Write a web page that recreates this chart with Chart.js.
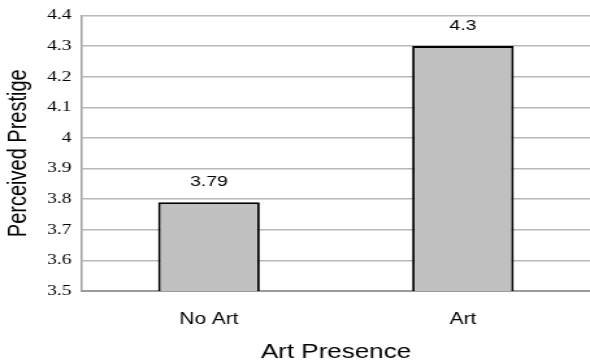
<!DOCTYPE html>
<html>
<head>
<meta charset="utf-8">
<script src="https://cdn.jsdelivr.net/npm/chart.js@4/dist/chart.umd.min.js"></script>
<style>
  html, body { margin: 0; padding: 0; background: #ffffff; }
  #c { display: block; }
</style>
</head>
<body>
<canvas id="c" width="454" height="364" style="width:590px;height:364px"></canvas>
<script>
const categories = ["No Art", "Art"];
const values = [3.79, 4.3];
const yMin = 3.5;
const yMax = 4.4;
const yStep = 0.1;
const xTitle = "Art Presence";
const yTitle = "Perceived Prestige";

const valueLabels = {
  id: 'valueLabels',
  afterDatasetsDraw(chart) {
    const ctx = chart.ctx;
    const meta = chart.getDatasetMeta(0);
    ctx.save();
    ctx.font = '15px "Liberation Sans", Arial, sans-serif';
    ctx.fillStyle = '#000000';
    ctx.textAlign = 'center';
    ctx.textBaseline = 'alphabetic';
    meta.data.forEach((bar, i) => {
      ctx.fillText(String(values[i]), bar.x, bar.y - 16);
    });
    ctx.restore();
  }
};

new Chart(document.getElementById('c'), {
  type: 'bar',
  data: {
    labels: categories,
    datasets: [{
      data: values,
      backgroundColor: '#c0c0c0',
      borderColor: '#000000',
      borderWidth: 2,
      borderSkipped: false,
      barPercentage: 0.4,
      categoryPercentage: 1.0
    }]
  },
  options: {
    responsive: false,
    devicePixelRatio: 1,
    animation: false,
    layout: { padding: { top: 0, right: 0, bottom: 0, left: 0 } },
    plugins: {
      legend: { display: false },
      tooltip: { enabled: false }
    },
    scales: {
      x: {
        offset: true,
        grid: { display: false, drawTicks: false },
        border: { display: true, color: '#9a9a9a', width: 2 },
        ticks: {
          color: '#000000',
          padding: 19,
          font: { family: '"Liberation Sans", Arial, sans-serif', size: 16 }
        },
        title: {
          display: true,
          text: xTitle,
          color: '#000000',
          padding: { top: 0, bottom: 0 },
          font: { family: '"Liberation Sans", Arial, sans-serif', size: 20 }
        },
        afterFit(scale) { scale.height = 73; }
      },
      y: {
        min: yMin,
        max: yMax,
        grid: { color: '#b8b8b8', lineWidth: 1.5, drawTicks: false },
        border: { display: true, color: '#a0a0a0', width: 1.5 },
        ticks: {
          stepSize: yStep,
          color: '#000000',
          padding: 8,
          font: { family: '"Liberation Serif", "DejaVu Serif", serif', size: 15, lineHeight: 1 },
          callback: (v) => String(Math.round(v * 10) / 10)
        },
        title: {
          display: true,
          text: yTitle,
          color: '#000000',
          padding: { top: 2, bottom: 0 },
          font: { family: '"Liberation Sans", Arial, sans-serif', size: 20 }
        },
        afterFit(scale) { scale.width = 63; }
      }
    }
  },
  plugins: [valueLabels]
});
</script>
</body>
</html>
